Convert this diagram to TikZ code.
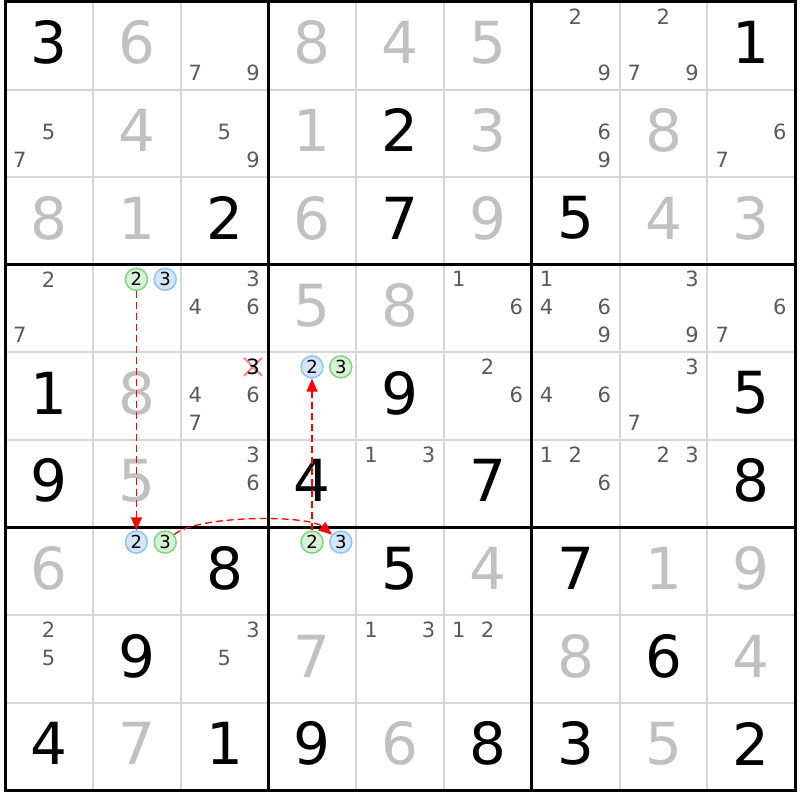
\documentclass[tikz,border=0pt]{standalone}
\usepackage{fontspec}
\setmainfont{DejaVu Sans}
\usetikzlibrary{arrows.meta,shapes.misc}
\definecolor{solvedgray}{HTML}{C0C0C0}
\definecolor{pencilgray}{HTML}{5A5A5A}
\definecolor{thingray}{HTML}{D6D6D6}
\definecolor{greenfill}{HTML}{D6F3D6}
\definecolor{greenline}{HTML}{7ED67E}
\definecolor{bluefill}{HTML}{D3E6F8}
\definecolor{blueline}{HTML}{8EC5F5}
\definecolor{linkred}{HTML}{FF0000}
\definecolor{crossred}{HTML}{F08A8A}
\begin{document}
\begin{tikzpicture}[x=1pt, y=-1pt,
  given/.style = {inner sep=0pt, font=\fontsize{58}{58}\selectfont},
  solved/.style = {given, text=solvedgray},
  pencil/.style = {inner sep=0pt, text=pencilgray, font=\fontsize{21}{21}\selectfont},
  greenmark/.style = {circle, draw=greenline, fill=greenfill, line width=1.5pt, minimum size=22pt, inner sep=0pt, font=\fontsize{18}{18}\selectfont},
  bluemark/.style = {greenmark, draw=blueline, fill=bluefill},
  crossmark/.style = {cross out, draw=crossred, line width=2pt, minimum size=16pt, inner sep=0pt},
  thingrid/.style = {draw=thingray, line width=2pt},
  boxgrid/.style = {draw=black, line width=3pt, line cap=rect},
  link/.style = {draw=linkred, line width=1.3pt, dash pattern=on 7pt off 4pt, -{Triangle[length=13pt, width=11pt]}}]
\useasboundingbox (0,0) rectangle (800,800);
\fill[white] (0,0) rectangle (800,800);
\foreach \i in {0,...,9} {
  \draw[thingrid] ({5+\i*87.8},2) -- ({5+\i*87.8},790.4);
  \draw[thingrid] (5,{2+\i*87.6}) -- (795.2,{2+\i*87.6});
}
\foreach \i in {0,3,6,9} {
  \draw[boxgrid] ({5+\i*87.8},2) -- ({5+\i*87.8},790.4);
  \draw[boxgrid] (5,{2+\i*87.6}) -- (795.2,{2+\i*87.6});
}
\foreach \r/\c/\d in {0/0/3, 0/8/1, 1/4/2, 2/2/2, 2/4/7, 2/6/5, 4/0/1, 4/4/9, 4/8/5,
  5/0/9, 5/3/4, 5/5/7, 5/8/8, 6/2/8, 6/4/5, 6/6/7, 7/1/9, 7/7/6,
  8/0/4, 8/2/1, 8/3/9, 8/5/8, 8/6/3, 8/8/2}
  \node[given] (g\r\c) at ({48.9+\c*87.8},{42.8+\r*87.6}) {\d};
\foreach \r/\c/\d in {0/1/6, 0/3/8, 0/4/4, 0/5/5, 1/1/4, 1/3/1, 1/5/3, 1/7/8,
  2/0/8, 2/1/1, 2/3/6, 2/5/9, 2/7/4, 2/8/3, 3/3/5, 3/4/8, 4/1/8, 5/1/5,
  6/0/6, 6/5/4, 6/7/1, 6/8/9, 7/3/7, 7/6/8, 7/8/4, 8/1/7, 8/4/6, 8/7/5}
  \node[solved] (s\r\c) at ({48.9+\c*87.8},{42.8+\r*87.6}) {\d};
\foreach \r/\c/\ds in {0/2/{7,9}, 0/6/{2,9}, 0/7/{2,7,9}, 1/0/{5,7}, 1/2/{5,9}, 1/6/{6,9}, 1/8/{6,7},
  3/0/{2,7}, 3/2/{3,4,6}, 3/5/{1,6}, 3/6/{1,4,6,9}, 3/7/{3,9}, 3/8/{6,7},
  4/2/{4,6,7}, 4/5/{2,6}, 4/6/{4,6}, 4/7/{3,7}, 5/2/{3,6}, 5/4/{1,3}, 5/6/{1,2,6}, 5/7/{2,3},
  7/0/{2,5}, 7/2/{3,5}, 7/4/{1,3}, 7/5/{1,2}}
  \foreach \d in \ds {
    \pgfmathtruncatemacro\sc{mod(\d-1,3)}
    \pgfmathtruncatemacro\sr{(\d-1)/3}
    \node[pencil] (p\r\c\d) at ({19.8+\c*87.8+\sc*28.8},{16.5+\r*87.6+\sr*28}) {\d};
  }
\node[crossmark] (x423) at ({19.8+2*87.8+2*28.8},{16.5+4*87.6}) {};
\node[pencil, text=black] (p423) at (x423) {3};
\node[greenmark] (c312) at ({19.8+1*87.8+1*28.8},{16.5+3*87.6}) {2};
\node[bluemark] (c313) at ({19.8+1*87.8+2*28.8},{16.5+3*87.6}) {3};
\node[bluemark] (c432) at ({19.8+3*87.8+1*28.8},{16.5+4*87.6}) {2};
\node[greenmark] (c433) at ({19.8+3*87.8+2*28.8},{16.5+4*87.6}) {3};
\node[bluemark] (c612) at ({19.8+1*87.8+1*28.8},{16.5+6*87.6}) {2};
\node[greenmark] (c613) at ({19.8+1*87.8+2*28.8},{16.5+6*87.6}) {3};
\node[greenmark] (c632) at ({19.8+3*87.8+1*28.8},{16.5+6*87.6}) {2};
\node[bluemark] (c633) at ({19.8+3*87.8+2*28.8},{16.5+6*87.6}) {3};
\draw[link] (c312) -- (c612);
\draw[link] (c613) to[bend left=40, looseness=0.5] (c633);
\draw[link] (c632) -- (c432);
\end{tikzpicture}
\end{document}
